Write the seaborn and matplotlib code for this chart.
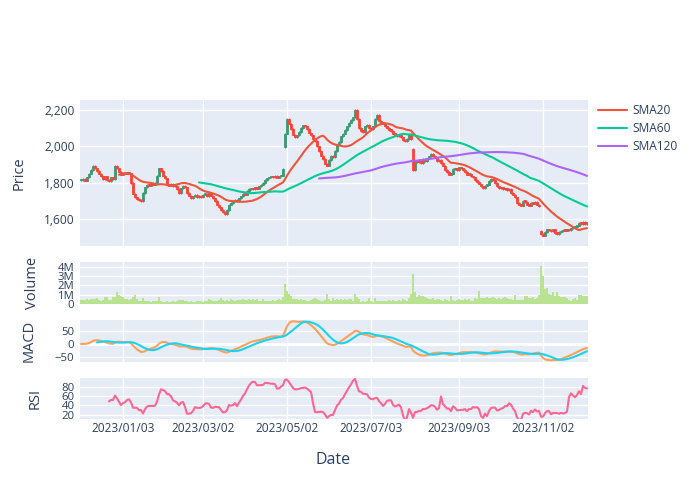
import numpy as np
import pandas as pd
import matplotlib
matplotlib.use("Agg")
import matplotlib.pyplot as plt
import seaborn as sns
from matplotlib.ticker import FuncFormatter

# trading calendar (US market, weekends + holidays closed)
start_date = "2022-12-01"
holidays = ["2022-12-26", "2023-01-02", "2023-01-16", "2023-02-20", "2023-04-07",
            "2023-05-29", "2023-06-19", "2023-07-04", "2023-09-04", "2023-11-23"]

close = [
    1815, 1820, 1812, 1830, 1850, 1870, 1895, 1880, 1865, 1850,
    1836, 1820, 1835, 1815, 1810, 1830, 1820, 1895, 1880, 1860,
    1845, 1855, 1850, 1858, 1852, 1800, 1740, 1720, 1712, 1705,
    1700, 1745, 1775, 1790, 1785, 1795, 1790, 1800, 1840, 1880,
    1865, 1840, 1825, 1790, 1785, 1795, 1780, 1785, 1765, 1745,
    1770, 1785, 1775, 1745, 1730, 1715, 1725, 1735, 1722, 1730,
    1720, 1735, 1740, 1725, 1745, 1730, 1715, 1700, 1680, 1665,
    1650, 1640, 1630, 1650, 1680, 1690, 1700, 1705, 1700, 1715,
    1725, 1740, 1735, 1755, 1765, 1770, 1765, 1775, 1768, 1780,
    1790, 1800, 1815, 1825, 1830, 1835, 1830, 1840, 1828, 1835,
    1840, 1875, 2070, 2150, 2125, 2095, 2065, 2050, 2060, 2080,
    2100, 2115, 2110, 2095, 2075, 2060, 2040, 2030, 2000, 1975,
    1950, 1930, 1905, 1895, 1925, 1950, 1940, 1975, 2010, 2025,
    2055, 2070, 2090, 2110, 2130, 2145, 2160, 2200, 2150, 2100,
    2085, 2080, 2110, 2120, 2100, 2095, 2110, 2150, 2175, 2140,
    2125, 2130, 2110, 2100, 2090, 2085, 2070, 2065, 2055, 2060,
    2050, 2035, 2030, 2040, 2070, 2040, 1870, 1920, 1915, 1925,
    1910, 1930, 1920, 1935, 1945, 1960, 1950, 1940, 1920, 1925,
    1910, 1895, 1870, 1860, 1845, 1850, 1875, 1880, 1870, 1885,
    1880, 1870, 1860, 1845, 1850, 1835, 1830, 1815, 1805, 1795,
    1780, 1770, 1785, 1790, 1810, 1820, 1815, 1800, 1780, 1770,
    1775, 1765, 1770, 1760, 1765, 1745, 1735, 1720, 1690, 1680,
    1675, 1700, 1695, 1680, 1675, 1690, 1685, 1695, 1680, 1670,
    1520, 1510, 1530, 1545, 1540, 1535, 1545, 1525, 1520, 1530,
    1535, 1540, 1538, 1545, 1540, 1550, 1555, 1560, 1565, 1580,
    1575, 1585, 1575, 1580,
]

# opens that gapped away from the previous close (day index -> open)
gap_opens = {102: 1995, 166: 1985, 230: 1535}

# volume in millions of shares
volume_m = [
    0.45, 0.4, 0.45, 0.5, 0.45, 0.5, 0.55, 0.5, 0.65, 0.4,
    0.35, 0.45, 0.75, 0.7, 0.45, 0.4, 0.8, 0.7, 1.3, 0.95,
    0.85, 0.7, 0.55, 0.5, 0.45, 0.5, 0.75, 1.0, 0.55, 0.3,
    0.35, 0.6, 0.35, 0.3, 0.3, 0.25, 0.3, 0.3, 0.35, 0.75,
    0.3, 0.25, 0.2, 0.35, 0.25, 0.2, 0.3, 0.25, 0.3, 0.45,
    0.4, 0.45, 0.35, 0.3, 0.25, 0.35, 0.2, 0.25, 0.3, 0.35,
    0.3, 0.25, 0.3, 0.35, 0.5, 0.45, 0.3, 0.35, 0.3, 0.4,
    0.6, 0.4, 0.35, 0.45, 0.3, 0.5, 0.4, 0.35, 0.4, 0.45,
    0.4, 0.5, 0.45, 0.4, 0.5, 0.45, 0.55, 0.45, 0.5, 0.35,
    0.3, 0.5, 0.35, 0.3, 0.3, 0.35, 0.4, 0.35, 0.45, 0.5,
    0.4, 0.8, 2.15, 1.4, 1.05, 0.85, 0.55, 0.5, 0.5, 0.45,
    0.55, 0.4, 0.45, 0.35, 0.3, 0.4, 0.55, 0.6, 0.5, 0.4,
    0.35, 0.3, 0.4, 1.1, 0.55, 0.35, 0.6, 0.45, 0.5, 0.4,
    0.55, 0.45, 0.5, 0.4, 0.55, 0.5, 0.3, 1.1, 0.8, 0.5,
    0.25, 0.3, 0.2, 0.35, 0.6, 0.3, 0.25, 0.65, 0.3, 0.35,
    0.3, 0.3, 0.35, 0.3, 0.4, 0.35, 0.4, 0.35, 0.35, 0.4,
    0.35, 0.55, 0.4, 0.3, 0.6, 1.1, 3.2, 1.3, 0.8, 0.95,
    0.85, 0.9, 0.8, 0.6, 0.55, 0.5, 0.6, 0.45, 0.5, 0.55,
    0.4, 0.35, 0.5, 0.45, 0.35, 0.9, 0.45, 0.35, 0.45, 0.5,
    0.4, 0.45, 0.5, 0.4, 0.55, 0.3, 0.35, 0.6, 0.55, 1.4,
    0.6, 0.65, 0.6, 0.7, 0.65, 0.6, 0.7, 0.6, 0.55, 0.65,
    0.55, 0.6, 0.7, 0.6, 0.55, 0.5, 0.45, 0.95, 0.45, 0.4,
    0.45, 0.4, 0.9, 0.85, 0.6, 0.65, 0.7, 0.5, 0.6, 1.0,
    4.05, 3.0, 1.6, 1.75, 1.05, 0.95, 1.25, 0.9, 1.25, 0.85,
    0.8, 0.75, 0.7, 0.6, 0.45, 0.35, 0.5, 0.6, 0.45, 1.0,
    0.95, 0.85, 0.9, 0.85,
]

tick_labels = ["2023/01/03", "2023/03/02", "2023/05/02", "2023/07/03", "2023/09/03", "2023/11/02"]
sma_windows = [20, 60, 120]
sma_colors = ["#EF553B", "#00CC96", "#AB63FA"]

INC, DEC = "#3D9970", "#FF4136"
TXT = "#2a3f5f"

sns.set_theme(style="darkgrid", rc={
    "axes.facecolor": "#E5ECF6",
    "grid.color": "white",
    "grid.linewidth": 1.0,
    "axes.edgecolor": "#E5ECF6",
})
plt.rcParams["font.family"] = ["Open Sans", "DejaVu Sans"]

dates = pd.bdate_range(start_date, periods=len(close), freq="C", holidays=holidays)
df = pd.DataFrame({"date": dates, "close": close, "volume": np.array(volume_m) * 1e6})
df["i"] = np.arange(len(df))
df["open"] = df["close"].shift(1).fillna(df["close"])
for k, v in gap_opens.items():
    df.loc[k, "open"] = v
df["high"] = df[["open", "close"]].max(axis=1)
df["low"] = df[["open", "close"]].min(axis=1)
for w in sma_windows:
    df[f"SMA{w}"] = df["close"].rolling(w).mean()
ema12 = df["close"].ewm(span=12, adjust=False).mean()
ema26 = df["close"].ewm(span=26, adjust=False).mean()
df["macd"] = ema12 - ema26
df["signal"] = df["macd"].rolling(9).mean()
delta = df["close"].diff()
gain = delta.clip(lower=0).rolling(14).mean()
loss = (-delta.clip(upper=0)).rolling(14).mean()
df["rsi"] = 100 - 100 / (1 + gain / loss)

tick_pos = dates.searchsorted(pd.to_datetime(tick_labels, format="%Y/%m/%d"))

fig = plt.figure(figsize=(7, 5), dpi=100)
# 2 px per trading day so the thin bars render evenly
L, W = 80 / 700, 2 * len(df) / 700
def box(top, bottom):
    return [L, 1 - bottom / 500, W, (bottom - top) / 500]

ax_p = fig.add_axes(box(100, 246))
ax_v = fig.add_axes(box(262, 304), sharex=ax_p)
ax_m = fig.add_axes(box(320, 362), sharex=ax_p)
ax_r = fig.add_axes(box(378, 419), sharex=ax_p)

# candles
up = df["close"] >= df["open"]
for mask, col in [(up, INC), (~up, DEC)]:
    d = df[mask]
    ax_p.vlines(d["i"], d["low"] - 4, d["high"] + 4, color=col, lw=0.8, zorder=2)
    ax_p.bar(d["i"], (d["close"] - d["open"]).abs().clip(lower=8), bottom=d["low"],
             width=0.75, color=col, edgecolor=col, linewidth=0.6, zorder=2)

for w, c in zip(sma_windows, sma_colors):
    sns.lineplot(data=df, x="i", y=f"SMA{w}", ax=ax_p, color=c, lw=1.5,
                 estimator=None, errorbar=None, label=f"SMA{w}", zorder=3)

ax_v.bar(df["i"], df["volume"], width=0.75, color="#b9e391", linewidth=0)

sns.lineplot(data=df, x="i", y="macd", ax=ax_m, color="#FFA15A", lw=1.5, estimator=None, errorbar=None)
sns.lineplot(data=df, x="i", y="signal", ax=ax_m, color="#19D3F3", lw=1.5, estimator=None, errorbar=None)
ax_m.axhline(0, color="white", lw=2, zorder=0.8)

sns.lineplot(data=df, x="i", y="rsi", ax=ax_r, color="#FF6692", lw=1.5, estimator=None, errorbar=None)

handles, labels = ax_p.get_legend_handles_labels()
ax_p.get_legend().remove()
fig.legend(handles, labels, loc="upper left", bbox_to_anchor=(598 / 700, 1 - 104 / 500),
           frameon=False, fontsize=8.6, handlelength=2.4, handletextpad=0.5,
           labelspacing=0.42, borderaxespad=0, borderpad=0, labelcolor=TXT)

ax_p.set_ylim(1453, 2255)
ax_p.set_yticks([1600, 1800, 2000, 2200])
ax_p.yaxis.set_major_formatter(FuncFormatter(lambda v, p: f"{v:,.0f}"))
ax_v.set_ylim(0, 4.5e6)
ax_v.set_yticks([0, 1e6, 2e6, 3e6, 4e6])
ax_v.yaxis.set_major_formatter(FuncFormatter(lambda v, p: "0" if v == 0 else f"{v / 1e6:.0f}M"))
ax_m.set_ylim(-70, 93)
ax_m.set_yticks([-50, 0, 50])
ax_r.set_ylim(11, 99)
ax_r.set_yticks([20, 40, 60, 80])

ax_r.set_xlim(-0.5, len(df) - 0.5)
ax_r.set_xticks(tick_pos)
ax_r.set_xticklabels(tick_labels)

for ax, name, lx in [(ax_p, "Price", -0.105), (ax_v, "Volume", -0.079),
                     (ax_m, "MACD", -0.085), (ax_r, "RSI", -0.073)]:
    ax.set_ylabel(name, fontsize=10.5, color=TXT)
    ax.yaxis.set_label_coords(lx, 0.5)
    ax.set_xlabel("")
    ax.tick_params(length=0, labelsize=8.6 if ax is ax_p else 8.2, labelcolor=TXT, pad=4)
    ax.set_axisbelow(True)
    for s in ax.spines.values():
        s.set_visible(False)
    if ax is not ax_r:
        ax.tick_params(labelbottom=False)
ax_r.tick_params(axis="x", pad=2, labelsize=8.6)

fig.text(333 / 700, 1 - 460 / 500, "Date", ha="center", va="center", fontsize=11.5, color=TXT)

fig.savefig("out.png", dpi=100, facecolor="white")
